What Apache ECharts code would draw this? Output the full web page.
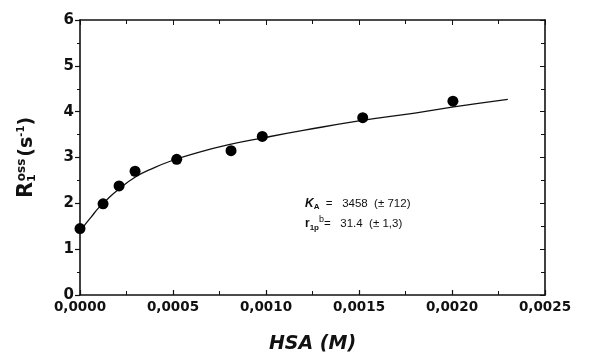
<!DOCTYPE html>
<html><head><meta charset="utf-8">
<script src="https://cdn.jsdelivr.net/npm/echarts@6/dist/echarts.min.js"></script>
<style>html,body{margin:0;padding:0;background:#fff}#c{width:591px;height:359px}</style>
</head><body><div id="c"></div>
<script>
// Data points: HSA concentration (M) and R1obs (s^-1)
const hsaConc = [0.0, 0.000124, 0.000210, 0.000296, 0.00052, 0.000812, 0.00098, 0.00152, 0.002005];
const r1obs   = [1.45, 1.99, 2.38, 2.70, 2.96, 3.15, 3.46, 3.87, 4.23];
// Fitted curve
const fitX = [0.0, 0.00003, 0.00006, 0.0001, 0.00015, 0.0002, 0.0003, 0.0004, 0.0005, 0.0006, 0.0008, 0.001, 0.0012, 0.0015, 0.0018, 0.002, 0.0023];
const fitY = [1.38, 1.55, 1.70, 1.90, 2.10, 2.28, 2.58, 2.78, 2.94, 3.07, 3.28, 3.44, 3.59, 3.80, 3.97, 4.10, 4.27];
const xTicks = ['0,0000','0,0005','0,0010','0,0015','0,0020','0,0025'];
const yTicks = ['0','1','2','3','4','5','6'];

const chart = echarts.init(document.getElementById('c'), null, {renderer:'canvas'});
const F = 'DejaVu Sans';
const lab = {fontFamily:F, fontWeight:'bold', color:'#111'};
const axLine = {show:true, onZero:false, lineStyle:{color:'#111', width:1.6}};
chart.setOption({
  animation:false,
  backgroundColor:'#fff',
  grid:{left:80, right:46, top:20, bottom:61},
  xAxis:[{
    type:'value', min:0, max:0.0025, interval:0.0005,
    axisLine:axLine, splitLine:{show:false},
    axisTick:{show:true, inside:true, length:5, lineStyle:{color:'#111',width:1.2}},
    minorTick:{show:true, splitNumber:2, length:4, lineStyle:{color:'#111'}},
    axisLabel:{...lab, fontSize:13.5, margin:5, formatter:(v)=>xTicks[Math.round(v/0.0005)]},
    name:'HSA (M)', nameLocation:'middle', nameGap:40,
    nameTextStyle:{fontFamily:F, fontWeight:'bold', fontStyle:'italic', fontSize:19, color:'#111'}
  },{
    type:'value', position:'top', min:0, max:0.0025, interval:0.0005,
    axisLine:axLine, splitLine:{show:false}, axisLabel:{show:false},
    axisTick:{show:true, inside:true, length:5, lineStyle:{color:'#111'}},
    minorTick:{show:true, splitNumber:2, length:4, lineStyle:{color:'#111'}}
  }],
  yAxis:[{
    type:'value', min:0, max:6, interval:1,
    axisLine:axLine, splitLine:{show:false},
    axisTick:{show:true, length:5, lineStyle:{color:'#111',width:1.2}},
    minorTick:{show:true, splitNumber:2, length:3, lineStyle:{color:'#111'}},
    axisLabel:{...lab, fontSize:15, margin:6, formatter:(v)=>yTicks[Math.round(v)]},
    name:'{r|R}{s|1}{o|oss}{p|(s}{e|-1}{p|)}', nameLocation:'middle', nameGap:42,
    nameTextStyle:{color:'#111', rich:{
      r:{fontFamily:F, fontWeight:'bold', fontSize:21, color:'#111'},
      s:{fontFamily:F, fontWeight:'bold', fontSize:11, color:'#111', verticalAlign:'bottom', padding:[10,0,0,0]},
      o:{fontFamily:F, fontWeight:'bold', fontSize:12, color:'#111', verticalAlign:'top', padding:[0,2,10,-7]},
      p:{fontFamily:F, fontWeight:'bold', fontSize:19, color:'#111'},
      e:{fontFamily:F, fontWeight:'bold', fontSize:10, color:'#111', verticalAlign:'top', padding:[0,0,10,0]}
    }}
  },{
    type:'value', position:'right', min:0, max:6, interval:1,
    axisLine:axLine, splitLine:{show:false}, axisLabel:{show:false},
    axisTick:{show:true, inside:true, length:5, lineStyle:{color:'#111'}},
    minorTick:{show:true, splitNumber:2, length:4, lineStyle:{color:'#111'}}
  }],
  series:[{
    type:'line', data:fitX.map((x,i)=>[x,fitY[i]]), smooth:true, showSymbol:false,
    lineStyle:{color:'#111', width:1.3}, z:2
  },{
    type:'scatter', data:hsaConc.map((x,i)=>[x,r1obs[i]]), symbol:'circle', symbolSize:11,
    itemStyle:{color:'#000', opacity:1}, z:3
  }],
  graphic:[{
    type:'text', left:305, top:198,
    style:{text:'{k|K}{ks|A}{t|  =   3458  (± 712)}', rich:{
      k:{fontFamily:'Liberation Sans', fontWeight:'bold', fontStyle:'italic', fontSize:12, fill:'#111'},
      ks:{fontFamily:'Liberation Sans', fontWeight:'bold', fontSize:8, fill:'#111', verticalAlign:'bottom', padding:[6,0,0,0]},
      t:{fontFamily:'Liberation Sans', fontSize:11.5, fill:'#111'}
    }}
  },{
    type:'text', left:305, top:215,
    style:{text:'{r|r}{rs|1p}{b|b}{t|=   31.4  (± 1,3)}', rich:{
      r:{fontFamily:'Liberation Sans', fontWeight:'bold', fontSize:12, fill:'#111'},
      rs:{fontFamily:'Liberation Sans', fontWeight:'bold', fontSize:8, fill:'#111', verticalAlign:'bottom', padding:[6,0,0,0]},
      b:{fontFamily:'Liberation Sans', fontSize:9, fill:'#111', verticalAlign:'top', padding:[0,0,8,0]},
      t:{fontFamily:'Liberation Sans', fontSize:11.5, fill:'#111'}
    }}
  }]
});
</script></body></html>
